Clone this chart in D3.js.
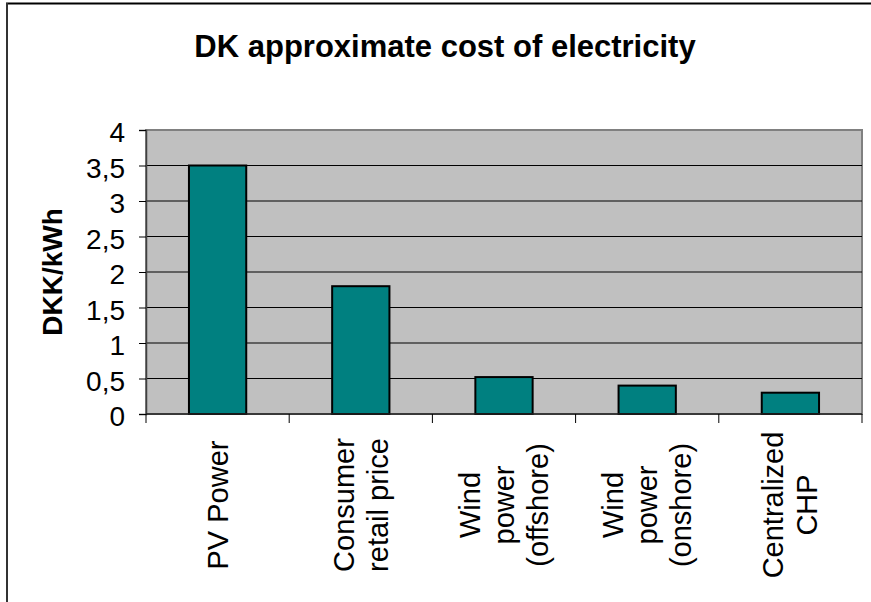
<!DOCTYPE html>
<html>
<head>
<meta charset="utf-8">
<script src="https://cdn.jsdelivr.net/npm/d3@7"></script>
<style>
  html, body { margin: 0; padding: 0; background: #fff; }
  svg text { font-family: Arial, "Liberation Sans", sans-serif; fill: #000; }
</style>
</head>
<body>
<svg width="871" height="602"></svg>
<script>
// data
const categories = [
  ['PV Power'],
  ['Consumer', 'retail price'],
  ['Wind', 'power', '(offshore)'],
  ['Wind', 'power', '(onshore)'],
  ['Centralized', 'CHP']
];
const costs = [3.5, 1.8, 0.52, 0.4, 0.3];
const yTicks = [0, 0.5, 1, 1.5, 2, 2.5, 3, 3.5, 4];

const svg = d3.select('svg');
const margin = { left: 146, right: 9, top: 130, bottom: 188 };
const W = 871, H = 602;
const plotW = W - margin.left - margin.right;
const plotH = H - margin.top - margin.bottom;

// comma as decimal sign
const fmt = d3.formatLocale({ decimal: ',', thousands: '.', grouping: [3], currency: ['', ''] }).format('~g');

// outer chart frame (top + left edges only show)
svg.append('line').attr('x1', 6).attr('x2', W).attr('y1', 3.5).attr('y2', 3.5)
  .attr('stroke', '#000').attr('stroke-width', 2);
svg.append('line').attr('x1', 7).attr('x2', 7).attr('y1', 3).attr('y2', H)
  .attr('stroke', '#333').attr('stroke-width', 2);

const g = svg.append('g').attr('transform', `translate(${margin.left},${margin.top})`);

let x = d3.scaleBand()
  .domain(d3.range(categories.length))
  .range([0, plotW])
  .paddingInner(0.6)
  .paddingOuter(0.3);

let y = d3.scaleLinear().domain([0, 4]).range([plotH, 0]);

// plot area
g.append('rect')
  .attr('width', plotW).attr('height', plotH)
  .attr('fill', '#c0c0c0')
  .attr('stroke', '#808080').attr('stroke-width', 2);

// gridlines
g.selectAll('line.grid')
  .data(yTicks.filter(d => d > 0 && d < 4))
  .enter().append('line')
  .attr('class', 'grid')
  .attr('x1', 0).attr('x2', plotW)
  .attr('y1', d => y(d)).attr('y2', d => y(d))
  .attr('stroke', '#000').attr('stroke-width', 1);

// bars
g.selectAll('rect.bar')
  .data(costs)
  .enter().append('rect')
  .attr('class', 'bar')
  .attr('x', (d, i) => x(i))
  .attr('width', x.bandwidth())
  .attr('y', d => y(d))
  .attr('height', d => plotH - y(d))
  .attr('fill', '#008080')
  .attr('stroke', '#000').attr('stroke-width', 2);

// y axis
const yAxis = g.append('g')
  .call(d3.axisLeft(y).tickValues(yTicks).tickSize(7).tickPadding(14).tickFormat(fmt));
yAxis.select('.domain').attr('stroke', '#404040').attr('stroke-width', 1.5);
yAxis.selectAll('.tick line').attr('stroke', '#000');
yAxis.selectAll('.tick text')
  .attr('font-size', 28).attr('dy', '0.42em').attr('fill', '#000');

// x axis line + ticks at category boundaries
const step = x.step();
g.append('line').attr('x1', 0).attr('x2', plotW).attr('y1', plotH).attr('y2', plotH)
  .attr('stroke', '#222').attr('stroke-width', 1.5);
g.selectAll('line.xtick')
  .data(d3.range(categories.length + 1))
  .enter().append('line')
  .attr('class', 'xtick')
  .attr('x1', d => d * step).attr('x2', d => d * step)
  .attr('y1', plotH).attr('y2', plotH + 9)
  .attr('stroke', '#000');

// rotated category labels
const lh = 34, labelFs = 29;
const labels = g.selectAll('g.xlabel')
  .data(categories)
  .enter().append('g')
  .attr('class', 'xlabel')
  .attr('transform', (d, i) => `translate(${x(i) + x.bandwidth() / 2},${plotH + 91}) rotate(-90)`);
labels.each(function(lines) {
  const n = lines.length;
  d3.select(this).selectAll('text')
    .data(lines)
    .enter().append('text')
    .attr('text-anchor', 'middle')
    .attr('font-size', labelFs)
    .attr('x', 0)
    .attr('y', (t, j) => (j - (n - 1) / 2) * lh + 10)
    .text(t => t);
});

// y axis title
svg.append('text')
  .attr('transform', `translate(62,${margin.top + plotH / 2}) rotate(-90)`)
  .attr('text-anchor', 'middle')
  .attr('font-size', 28).attr('font-weight', 'bold')
  .text('DKK/kWh');

// chart title
svg.append('text')
  .attr('x', 445).attr('y', 57)
  .attr('text-anchor', 'middle')
  .attr('font-size', 31).attr('font-weight', 'bold')
  .text('DK approximate cost of electricity');
</script>
</body>
</html>
